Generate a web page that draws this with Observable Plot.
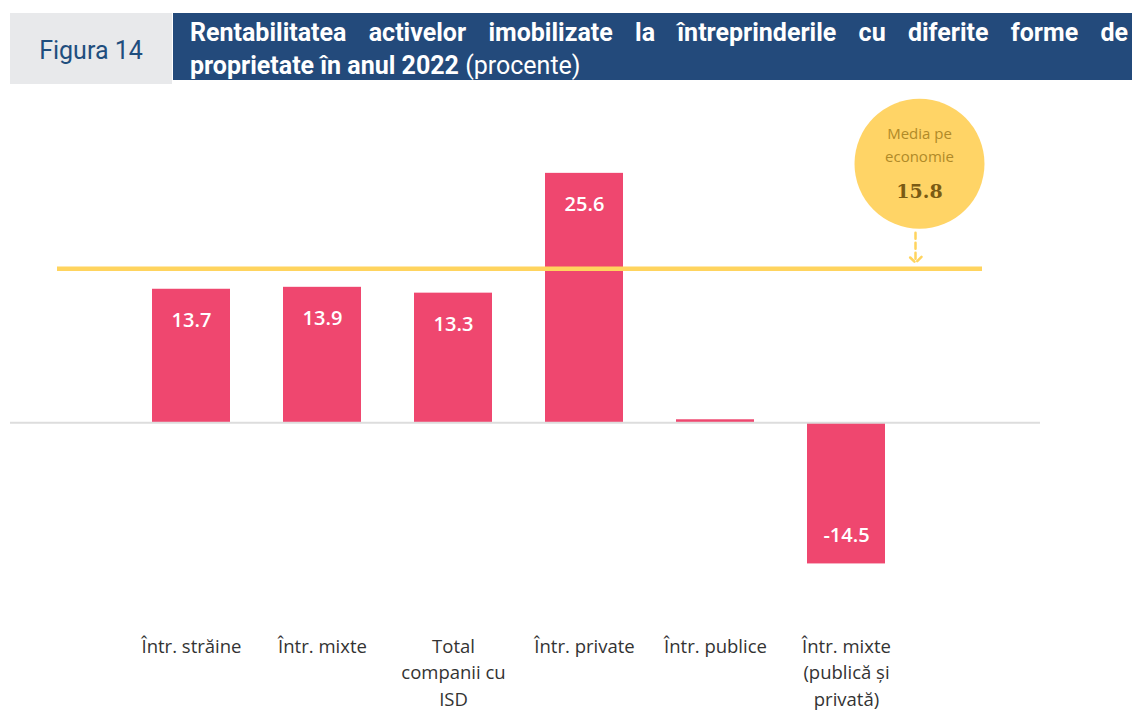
<!DOCTYPE html>
<html>
<head>
<meta charset="utf-8">
<script src="https://cdn.jsdelivr.net/npm/d3@7"></script>
<script src="https://cdn.jsdelivr.net/npm/@observablehq/plot@0.6"></script>
<style>
  html, body { margin: 0; padding: 0; background: #fff; }
  #wrap { position: relative; width: 1132px; height: 711px; overflow: hidden; }
  #fig { position: absolute; left: 10px; top: 13px; width: 162px; height: 71px; background: #E8E9EB;
         color: #1F4E7E; font-family: "Roboto", sans-serif; font-size: 25px;
         display: flex; align-items: center; justify-content: center; padding-top: 3px; box-sizing: border-box; }
  #title { position: absolute; left: 173px; top: 13px; width: 959px; height: 67px; background: #234A7B; }
  #title .l { position: absolute; left: 17px; right: 4px; color: #fff;
              font-family: "Roboto", sans-serif; font-size: 25px; line-height: 33px; white-space: nowrap; }
  #title .l1 { top: 3px; text-align: justify; text-align-last: justify; font-weight: 700; }
  #title .l2 { top: 36px; }
  #title b { font-weight: 700; }
  #title .n { font-weight: 400; }
  #chart { position: absolute; left: 0; top: 88px; }
</style>
</head>
<body>
<div id="wrap">
  <div id="fig">Figura 14</div>
  <div id="title">
    <div class="l l1">Rentabilitatea activelor imobilizate la întreprinderile cu diferite forme de</div>
    <div class="l l2"><b>proprietate în anul 2022</b> <span class="n">(procente)</span></div>
  </div>
  <div id="chart"></div>
</div>
<script>
const categories = ["straine", "mixte", "isd", "private", "publice", "mixtePP"];
const tickLabels = ["Într. străine", "Într. mixte", "Total\ncompanii cu\nISD", "Într. private", "Într. publice", "Într. mixte\n(publică și\nprivată)"];
const values = [13.7, 13.9, 13.3, 25.6, 0.3, -14.5];
const showLabel = [true, true, true, true, false, true];
const average = 15.8;
const averageLabel = ["Media pe", "economie"];

const data = categories.map((c, i) => ({cat: c, value: values[i], label: tickLabels[i], show: showLabel[i]}));
const labelOf = new Map(categories.map((c, i) => [c, tickLabels[i]]));

const barColor = "#EF476F";
const yellow = "#FFD45E";

function makeChart(half) {
  const valueFont = {fill: "#fff", fontSize: 20, fontWeight: 600, fontFamily: "Open Sans, sans-serif",
    lineAnchor: "middle", textAnchor: "middle", letterSpacing: "1.5px"};
  return Plot.plot({
    width: 1132,
    height: 623,
    marginLeft: 10,
    marginRight: 92,
    marginTop: 42,
    marginBottom: 94,
    style: {background: "transparent", overflow: "visible"},
    x: {domain: categories, paddingInner: 0.405, paddingOuter: 1.122, align: 0.478, axis: null, label: null},
    y: {domain: [-20, 30], axis: null},
    marks: [
      Plot.barY(data, {x: "cat", y: "value", fill: barColor}),
      Plot.ruleY([0], {stroke: "#DDDDDD", strokeWidth: 2}),
      Plot.ruleY([average], {stroke: yellow, strokeWidth: 4.5, insetLeft: 47, insetRight: 58}),
      Plot.text(data.filter(d => d.show && d.value >= 0), {
        x: "cat", y: "value", text: d => d.value.toFixed(1), dx: half, dy: 31, ...valueFont
      }),
      Plot.text(data.filter(d => d.show && d.value < 0), {
        x: "cat", y: "value", text: d => d.value.toFixed(1), dx: half, dy: -28, ...valueFont
      }),
      Plot.axisX({
        label: null, tickSize: 0, tickPadding: 17, tickFormat: c => labelOf.get(c),
        fontSize: 18.5, lineHeight: 1.42, fill: "#333", fontFamily: "Open Sans, sans-serif",
        lineAnchor: "top"
      }),
      Plot.dot([average], {y: d => d, frameAnchor: "right", dx: -121, dy: -105, r: 65, fill: "#FFD466", stroke: "none"}),
      Plot.text([averageLabel.join("\n")], {y: () => average, text: d => d, frameAnchor: "right", textAnchor: "middle",
        dx: -121, dy: -126, fill: "#B08A28", fontSize: 15, lineHeight: 1.55, fontFamily: "Open Sans, sans-serif", lineAnchor: "middle"}),
      Plot.text([average], {y: d => d, text: d => d.toFixed(1), frameAnchor: "right", textAnchor: "middle",
        dx: -121, dy: -77, fill: "#7A5B14", fontSize: 19, fontWeight: 700, fontFamily: "DejaVu Serif, serif", lineAnchor: "middle"}),
      Plot.vector([average], {y: d => d, frameAnchor: "right", dx: -125, dy: -6, length: 30, rotate: 180, anchor: "end",
        stroke: yellow, strokeWidth: 2.5, strokeDasharray: "6,4"})
    ]
  });
}

// first pass reads the band width from the library's x scale; value labels are then centred on the bars
const xs = makeChart(0).scale("x");
let chart = makeChart(xs.bandwidth / 2);
document.getElementById("chart").appendChild(chart);

// if the library already centres text on bands, drop the extra offset
(function () {
  const barRect = chart.querySelector("g[aria-label='bar'] rect");
  const txt = chart.querySelector("g[aria-label='text'] text");
  if (barRect && txt) {
    const bb = barRect.getBoundingClientRect();
    const tb = txt.getBoundingClientRect();
    if (Math.abs((tb.x + tb.width / 2) - (bb.x + bb.width / 2)) > xs.bandwidth / 4) {
      const fixed = makeChart(0);
      chart.replaceWith(fixed);
      chart = fixed;
    }
  }
})();
</script>
</body>
</html>
